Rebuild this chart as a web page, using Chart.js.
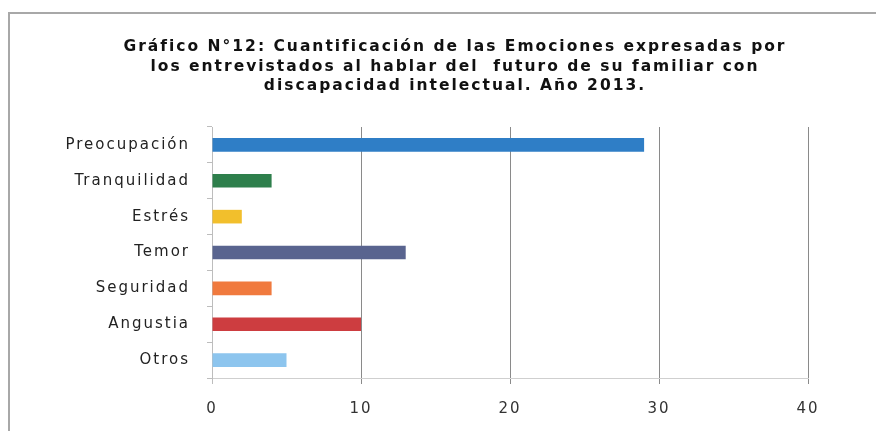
<!DOCTYPE html>
<html>
<head>
<meta charset="utf-8">
<script src="https://cdn.jsdelivr.net/npm/chart.js@4"></script>
<style>
  html, body { margin: 0; padding: 0; background: #fff; overflow: hidden; }
  #chart { display: block; }
</style>
</head>
<body>
<canvas id="chart" width="878" height="431"></canvas>
<script>
const emociones = ['Preocupación', 'Tranquilidad', 'Estrés', 'Temor', 'Seguridad', 'Angustia', 'Otros'];
const cantidades = [29, 4, 2, 13, 4, 10, 5];
const colores = ['#2F7EC6', '#2E7F4C', '#F2BF2C', '#59648F', '#F07A3E', '#CD3D40', '#8DC5EE'];
const titulo = [
    'Gráfico N°12: Cuantificación de las Emociones expresadas por',
    'los entrevistados al hablar del  futuro de su familiar con',
    'discapacidad intelectual. Año 2013.'
];
const ejeMin = 0;
const ejeMax = 40;
const ejePaso = 10;

// recuadro, título centrado y espaciado de letras
const rotulos = {
    id: 'rotulos',
    beforeDraw(chart) {
        const ctx = chart.ctx;
        ctx.letterSpacing = '2px';
        ctx.save();
        ctx.strokeStyle = '#a8a8a8';
        ctx.lineWidth = 2;
        ctx.beginPath();
        ctx.moveTo(9, chart.height);
        ctx.lineTo(9, 13);
        ctx.lineTo(chart.width - 2, 13);
        ctx.stroke();

        ctx.font = 'bold 15.5px "DejaVu Sans"';
        ctx.fillStyle = '#111';
        ctx.textAlign = 'center';
        ctx.textBaseline = 'middle';
        titulo.forEach((linea, i) => {
            ctx.fillText(linea, 455, 47 + i * 19.5);
        });
        ctx.restore();
    }
};

new Chart(document.getElementById('chart').getContext('2d'), {
    type: 'bar',
    data: {
        labels: emociones,
        datasets: [{
            data: cantidades,
            backgroundColor: colores,
            borderWidth: 0,
            barPercentage: 0.38,
            categoryPercentage: 1
        }]
    },
    options: {
        indexAxis: 'y',
        responsive: false,
        animation: false,
        layout: { padding: { top: 127, left: 0, right: 70, bottom: 0 } },
        plugins: {
            legend: { display: false },
            tooltip: { enabled: false }
        },
        scales: {
            x: {
                min: ejeMin,
                max: ejeMax,
                ticks: {
                    stepSize: ejePaso,
                    color: '#333',
                    padding: 16,
                    font: { family: 'DejaVu Sans', size: 15 }
                },
                grid: {
                    color: ctx => ctx.tick && ctx.tick.value === 0 ? '#bdbdbd' : '#8a8a8a',
                    tickLength: 6
                },
                border: { color: '#cfcfcf' },
                afterFit: s => { s.height = 53; }
            },
            y: {
                ticks: {
                    color: '#222',
                    padding: 17,
                    font: { family: 'DejaVu Sans', size: 15 }
                },
                grid: {
                    drawOnChartArea: false,
                    tickLength: 5,
                    color: '#bdbdbd'
                },
                border: { color: '#bdbdbd' },
                afterFit: s => { s.width = 212; }
            }
        }
    },
    plugins: [rotulos]
});
</script>
</body>
</html>
